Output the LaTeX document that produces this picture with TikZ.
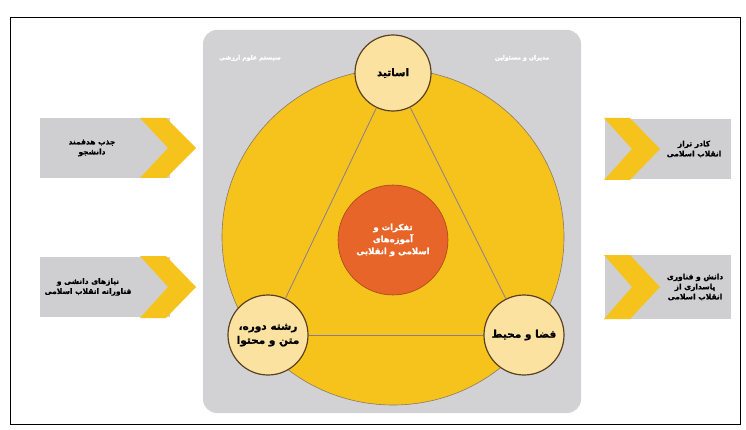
\documentclass[tikz,border=0pt]{standalone}
\usepackage{fontspec}
\usetikzlibrary{shapes.geometric}
\newfontfamily\arabicfont[Script=Arabic,BoldFont={DejaVu Sans Bold},BoldFeatures={FakeBold=1.2}]{DejaVu Sans}
\TeXXeTstate=1
\newcommand{\fa}[1]{{\arabicfont\bfseries\beginR #1\endR}}
\definecolor{panelgray}{HTML}{D2D2D4}
\definecolor{boxgray}{HTML}{CFCFD1}
\definecolor{bigyellow}{HTML}{F6C31C}
\definecolor{lightyellow}{HTML}{FCE2A0}
\definecolor{centerorange}{HTML}{E8652A}
\definecolor{edgebrown}{HTML}{5A4020}
\definecolor{linepurple}{HTML}{8A7A9A}
\tikzset{
  keynode/.style={circle, draw=edgebrown, line width=1.2pt, fill=lightyellow, minimum size=#1, inner sep=0pt, align=center, font=\fontsize{10.5}{14}\selectfont},
  sidebox/.style={fill=boxgray, minimum width=130pt, minimum height=60pt, inner sep=0pt},
  sidetext/.style={align=center, font=\fontsize{7.5}{10}\selectfont},
  chev/.style={fill=bigyellow},
  tri/.style={draw=linepurple, line width=0.8pt},
  paneltext/.style={text=white, font=\fontsize{6}{7}\selectfont}
}
\begin{document}
\begin{tikzpicture}[x=1pt,y=-1pt]
\useasboundingbox (0,0) rectangle (746,430);
\fill[white] (0,0) rectangle (746,430);
\draw[line width=1pt] (10,18) rectangle (740,424);
% panel
\fill[panelgray, rounded corners=14pt] (203,30) rectangle (581,413);
\node[paneltext] (pl) at (250,58) {\fa{سیستم علوم ارزشی}};
\node[paneltext] (pr) at (522,58) {\fa{مدیران و مسئولین}};
% big circle
\node[ellipse, fill=bigyellow, draw=edgebrown!70, line width=0.6pt, minimum width=342pt, minimum height=336pt, inner sep=0pt] (big) at (393,237) {};
% triangle corners
\node[keynode=76pt] (top) at (393,73) {\fa{اساتید}};
\node[keynode=80pt] (bl) at (268,335) {\fa{رشته دوره،}\\\fa{متن و محتوا}};
\node[keynode=80pt] (br) at (524,335) {\fa{فضا و محیط}};
\draw[tri] (top) -- (bl);
\draw[tri] (top) -- (br);
\draw[tri] (bl.east) -- (br.west);
% center
\node[circle, fill=centerorange, draw=centerorange!70!black, line width=0.6pt, minimum size=110pt, inner sep=0pt, text=white, align=center, font=\fontsize{8.5}{12}\selectfont] (ctr) at (393,240) {\fa{تفکرات و}\\\fa{آموزه‌های}\\\fa{اسلامی و انقلابی}};
% left boxes
\node[sidebox] (l1) at (105,148) {};
\fill[chev] (140,118) -- (166,118) -- (196,148) -- (166,178) -- (140,178) -- (168,148) -- cycle;
\node[sidetext] (l1t) at (92,148) {\fa{جذب هدفمند}\\\fa{دانشجو}};
\node[sidebox] (l2) at (105,287) {};
\fill[chev] (140,256) -- (166,256) -- (196,287) -- (166,318) -- (140,318) -- (168,287) -- cycle;
\node[sidetext] (l2t) at (88,287) {\fa{نیازهای دانشی و}\\\fa{فناورانه انقلاب اسلامی}};
% right boxes
\node[sidebox, minimum width=126pt] (r1) at (668,149) {};
\fill[chev] (604,118) -- (630,118) -- (660,149) -- (630,180) -- (604,180) -- (632,149) -- cycle;
\node[sidetext] (r1t) at (694,149) {\fa{کادر تراز}\\\fa{انقلاب اسلامی}};
\node[sidebox, minimum width=126pt, minimum height=64pt] (r2) at (668,287) {};
\fill[chev] (604,255) -- (630,255) -- (660,287) -- (630,319) -- (604,319) -- (632,287) -- cycle;
\node[sidetext] (r2t) at (695,287) {\fa{دانش و فناوری}\\\fa{پاسداری از}\\\fa{انقلاب اسلامی}};
\end{tikzpicture}
\end{document}
